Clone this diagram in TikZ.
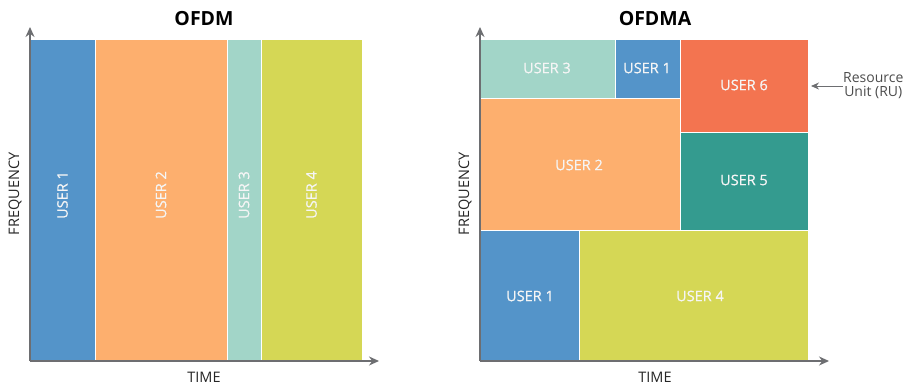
\documentclass[tikz,border=0pt]{standalone}
\usepackage{fontspec}
\setmainfont{Open Sans}
\newfontfamily\semib[FakeBold=0.6]{Open Sans}
\definecolor{ublue}{HTML}{5494C9}
\definecolor{uorange}{HTML}{FDAF6E}
\definecolor{umint}{HTML}{A2D5C8}
\definecolor{ulime}{HTML}{D5D755}
\definecolor{ured}{HTML}{F37450}
\definecolor{uteal}{HTML}{349B8F}
\definecolor{axisgray}{HTML}{6D6E71}
\usetikzlibrary{arrows.meta}

\begin{document}
\begin{tikzpicture}[x=1pt, y=-1pt,
  block/.style={draw=white, line width=1pt},
  lbl/.style={font=\semib\fontsize{14.5}{16}\selectfont, text=white!96!black},
  axis/.style={-{Stealth[length=10pt, width=9pt]}, axisgray, line width=1.4pt},
  axlbl/.style={font=\fontsize{14.5}{16}\selectfont, text=black!85},
  ttl/.style={font=\fontsize{19.5}{21}\selectfont\bfseries}]
  \useasboundingbox (0,0) rectangle (903,386);

  % OFDM blocks
  \filldraw[block, fill=ublue] (30,39) rectangle (95,361);
  \filldraw[block, fill=uorange] (95,39) rectangle (227,361);
  \filldraw[block, fill=umint] (227,39) rectangle (261,361);
  \filldraw[block, fill=ulime] (261,39) rectangle (362,361);
  \node[lbl, rotate=90] (a1) at (62.5,195) {USER 1};
  \node[lbl, rotate=90] (a2) at (161,195) {USER 2};
  \node[lbl, rotate=90] (a3) at (244,195) {USER 3};
  \node[lbl, rotate=90] (a4) at (311.5,195) {USER 4};

  % OFDM axes
  \coordinate (o1) at (30,361);
  \coordinate (ty1) at (30,27);
  \coordinate (tx1) at (379,361);
  \draw[axis] (o1) -- (ty1);
  \draw[axis] (o1) -- (tx1);
  \node[ttl] (t1) at (204,19) {OFDM};
  \node[axlbl] (time1) at (204,377) {TIME};
  \node[axlbl, rotate=90] (freq1) at (15,194) {FREQUENCY};

  % OFDMA blocks
  \filldraw[block, fill=umint] (480,39) rectangle (615,98);
  \filldraw[block, fill=ublue] (615,39) rectangle (680,98);
  \filldraw[block, fill=ured] (680,39) rectangle (808,132);
  \filldraw[block, fill=uorange] (480,98) rectangle (680,230);
  \filldraw[block, fill=uteal] (680,132) rectangle (808,230);
  \filldraw[block, fill=ublue] (480,230) rectangle (579,361);
  \filldraw[block, fill=ulime] (579,230) rectangle (808,361);
  \node[lbl] (b3) at (547,68) {USER 3};
  \node[lbl] (b1) at (647,68) {USER 1};
  \node[lbl] (b6) at (744,85) {USER 6};
  \node[lbl] (b2) at (579,165) {USER 2};
  \node[lbl] (b5) at (744,180) {USER 5};
  \node[lbl] (b1b) at (530,296) {USER 1};
  \node[lbl] (b4) at (700,296) {USER 4};

  % OFDMA axes
  \coordinate (o2) at (480,361);
  \coordinate (ty2) at (480,27);
  \coordinate (tx2) at (829,361);
  \draw[axis] (o2) -- (ty2);
  \draw[axis] (o2) -- (tx2);
  \node[ttl] (t2) at (655,19) {OFDMA};
  \node[axlbl] (time2) at (655,377) {TIME};
  \node[axlbl, rotate=90] (freq2) at (465,194) {FREQUENCY};

  % Resource unit
  \node[font=\fontsize{14}{14}\selectfont, text=black!70, align=center, anchor=west, inner sep=0pt] (ru) at (843,86) {Resource\\Unit (RU)};
  \coordinate (rutip) at (811,86);
  \draw[-{Stealth[length=8pt, width=7pt]}, axisgray, line width=1pt] (ru.west) -- (rutip);
\end{tikzpicture}
\end{document}
